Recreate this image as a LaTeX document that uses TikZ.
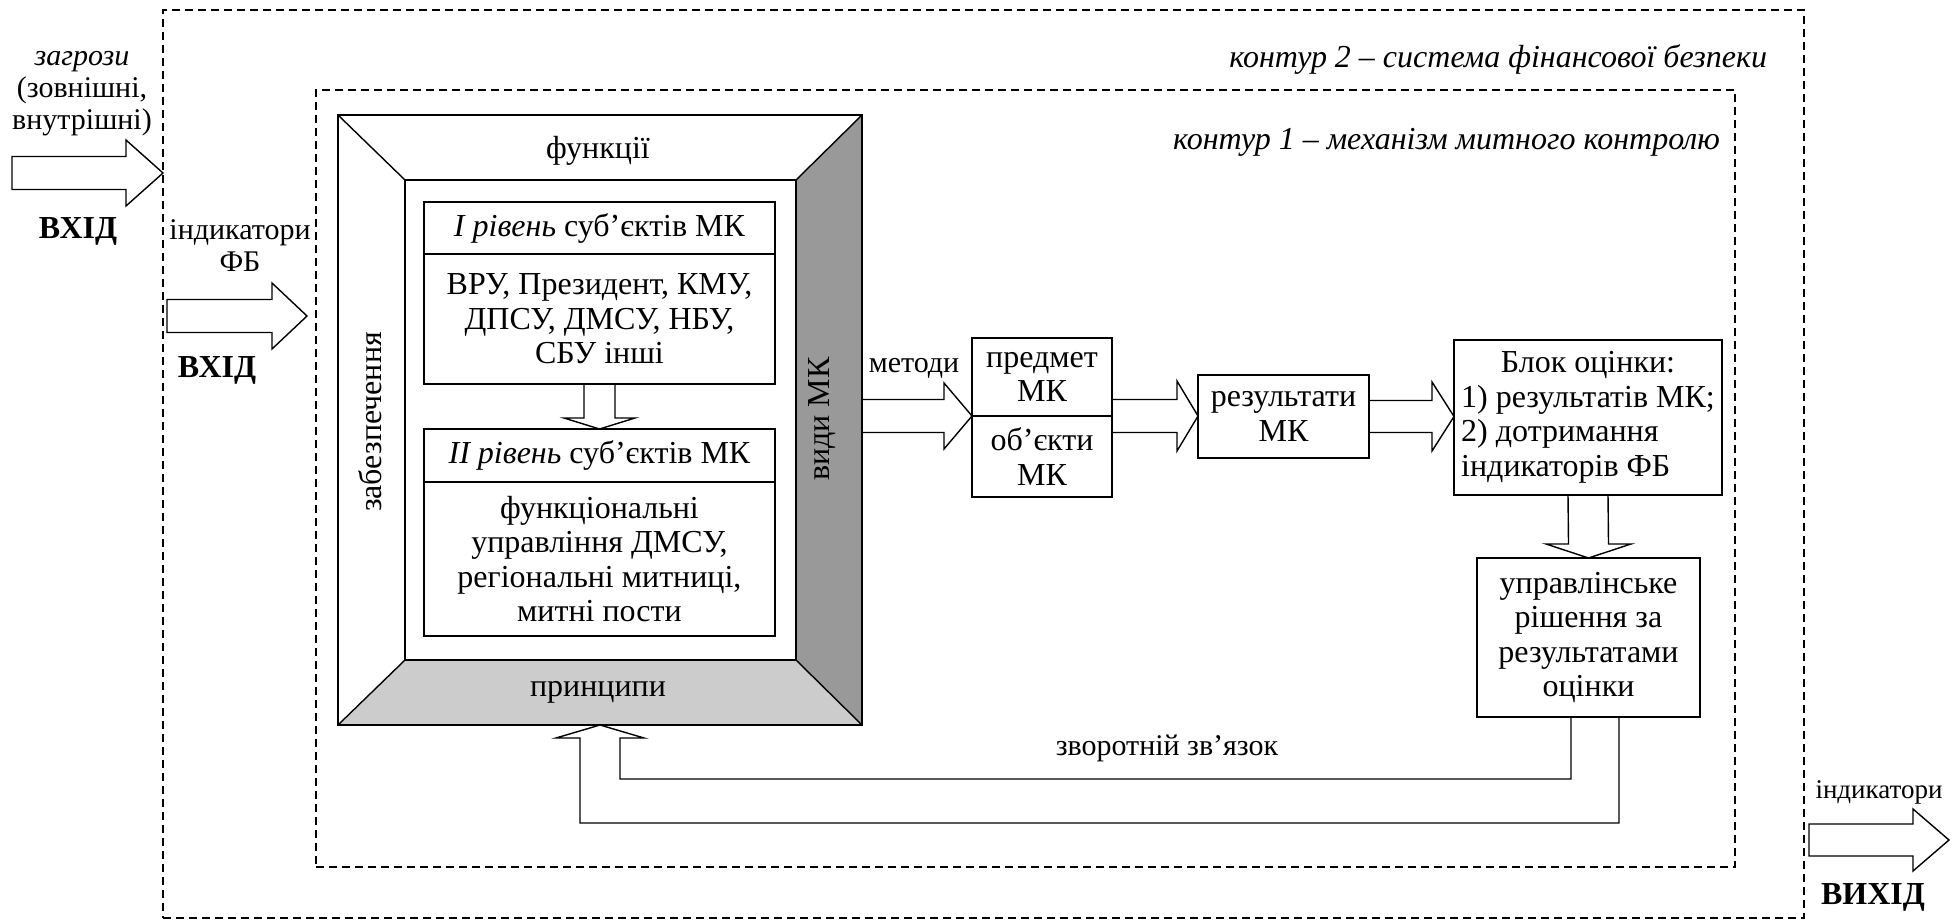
\documentclass[tikz,border=0pt]{standalone}
\usepackage{fontspec}
\setmainfont{Liberation Serif}
\usetikzlibrary{positioning,calc,backgrounds}
\definecolor{sideGrey}{HTML}{999999}
\definecolor{baseGrey}{HTML}{CCCCCC}
\newcommand{\boxfont}{\fontsize{32}{34.5}\selectfont}
\newcommand{\labfont}{\fontsize{30}{32}\selectfont}

% block arrows: tail, tip, half shaft, half head, head length
\newcommand{\harrow}[6][]{%
  \draw[blockarrow] ($(#2)+(0,-#4)$) -- ($(#3 |- #2)+(-#6,-#4)$)
    -- ($(#3 |- #2)+(-#6,-#5)$) -- (#3 |- #2) -- ($(#3 |- #2)+(-#6,#5)$)
    -- ($(#3 |- #2)+(-#6,#4)$) -- ($(#2)+(0,#4)$) #1;}
\newcommand{\varrow}[5]{%
  \draw[blockarrow] ($(#1)+(-#3,0)$) -- ($(#2)+(-#3,-#5)$)
    -- ($(#2)+(-#4,-#5)$) -- (#2) -- ($(#2)+(#4,-#5)$)
    -- ($(#2)+(#3,-#5)$) -- ($(#1)+(#3,0)$);}

\begin{document}
\begin{tikzpicture}[x=1pt, y=-1pt,
    every node/.style={outer sep=0pt},
    box/.style={rectangle, draw, line width=1.4pt, align=center,
                inner sep=2pt, font=\boxfont},
    lab/.style={align=center, inner sep=0pt, font=\labfont},
    contour/.style={rectangle, draw, line width=1.5pt,
                    dash pattern=on 8pt off 5pt},
    blockarrow/.style={draw, line width=1.4pt},
]
    \useasboundingbox (0,0) rectangle (1959,921);

    % contours
    \node[contour, minimum width=1641pt, minimum height=908pt] (c2) at (983.5,464) {};
    \node[contour, minimum width=1419pt, minimum height=777pt] (c1) at (1025.5,478.5) {};
    \node[anchor=east, inner sep=0pt, font=\boxfont\itshape] (c2lab) at (1767,59)
         {контур 2 – система фінансової безпеки};
    \node[anchor=east, inner sep=0pt, font=\boxfont\itshape] (c1lab) at (1720,142)
         {контур 1 – механізм митного контролю};

    % frame of the mechanism
    \node[draw, line width=1.4pt, minimum width=524pt, minimum height=610pt] (frame) at (600,420) {};
    \node[draw, line width=1.4pt, minimum width=391pt, minimum height=480pt] (core) at (600.5,420) {};
    \begin{scope}[on background layer]
        \fill[sideGrey] (frame.north east) -- (core.north east) -- (core.south east)
            -- (frame.south east) -- cycle;
        \fill[baseGrey] (frame.south west) -- (core.south west) -- (core.south east)
            -- (frame.south east) -- cycle;
    \end{scope}
    \draw[line width=1.4pt] (frame.north west) -- (core.north west)
        (frame.north east) -- (core.north east)
        (frame.south west) -- (core.south west)
        (frame.south east) -- (core.south east);
    \node[lab, font=\boxfont] (func) at (598,151) {функції};
    \node[lab, font=\boxfont] (princ) at (598,692) {принципи};
    \node[lab, font=\boxfont, rotate=90] (supp) at (370,422) {забезпечення};
    \node[lab, font=\boxfont, rotate=90] (kinds) at (822,419) {види МК};

    % subjects
    \node[box, minimum width=351pt, minimum height=52pt] (l1head) at (599.5,228)
         {\textit{I рівень} суб’єктів МК};
    \node[box, minimum width=351pt, minimum height=130pt, below=0pt of l1head] (l1body)
         {ВРУ, Президент, КМУ,\\ДПСУ, ДМСУ, НБУ,\\СБУ інші};
    \node[box, minimum width=351pt, minimum height=53pt] (l2head) at (599.5,455.5)
         {\textit{II рівень} суб’єктів МК};
    \node[box, minimum width=351pt, minimum height=154pt, below=0pt of l2head] (l2body)
         {функціональні\\управління ДМСУ,\\регіональні митниці,\\митні пости};

    % control chain
    \node[box, minimum width=140pt, minimum height=78pt] (pred) at (1042,377) {предмет\\МК};
    \node[box, minimum width=140pt, minimum height=81pt, below=0pt of pred] (obj) {об’єкти\\МК};
    \node[box, minimum width=171pt, minimum height=83pt] (res) at (1283.5,416.5) {результати\\МК};
    \node[box, minimum width=268pt, minimum height=155pt] (eval) at (1588,417.5)
         {\begin{tabular}{@{}l@{}}\multicolumn{1}{@{}c@{}}{Блок оцінки:}\\
          1) результатів МК;\\2) дотримання\\індикаторів ФБ\end{tabular}};
    \node[box, minimum width=223pt, minimum height=159pt] (dec) at (1588.5,637.5)
         {управлінське\\рішення за\\результатами\\оцінки};

    % labels
    \node[lab] (threat) at (82,94) {\textit{загрози}\\(зовнішні,\\внутрішні)};
    \node[lab, font=\boxfont\bfseries] (in1) at (78,231) {ВХІД};
    \node[lab] (fbind) at (240,246) {індикатори\\ФБ};
    \node[lab, font=\boxfont\bfseries] (in2) at (217,370) {ВХІД};
    \node[lab] (meth) at (914,368) {методи};
    \node[lab] (fback) at (1167,748) {зворотній зв’язок};
    \node[lab, font=\fontsize{27}{29}\selectfont] (outind) at (1879,792) {індикатори};
    \node[lab, font=\boxfont\bfseries] (out) at (1873,897) {ВИХІД};

    % block arrows
    \coordinate (thr) at (12,173);
    \harrow[-- cycle]{thr}{c2.west}{16.5}{33}{37}
    \coordinate (fbin) at (167,316);
    \coordinate (fbtip) at (307,316);
    \harrow[-- cycle]{fbin}{fbtip}{16.5}{33}{35}
    \coordinate (mt) at (frame.east |- pred.south);
    \harrow{mt}{pred.south west}{16.5}{33}{28}
    \harrow{pred.south east}{res.west}{16.5}{35}{21}
    \harrow{res.east}{eval.west}{16}{34.5}{22}
    \coordinate (outtail) at (1809,840);
    \coordinate (outtip) at (1949,840);
    \harrow[-- cycle]{outtail}{outtip}{16}{31}{36}
    \varrow{l1body.south}{l2head.north}{15.5}{35.5}{11}
    \varrow{eval.south}{dec.north}{20}{42.5}{14}

    % feedback
    \coordinate (fbR) at ($(dec.south)+(30.5,0)$);
    \coordinate (fbL) at ($(dec.south)+(-17.5,0)$);
    \draw[blockarrow] (fbR) -- ++(0,106) -| ($(frame.south)+(-20,13)$) -- ++(-24,0)
        -- (frame.south) -- ($(frame.south)+(44,13)$) -- ++(-24,0)
        |- ($(fbL)+(0,62)$) -- (fbL);
\end{tikzpicture}
\end{document}
